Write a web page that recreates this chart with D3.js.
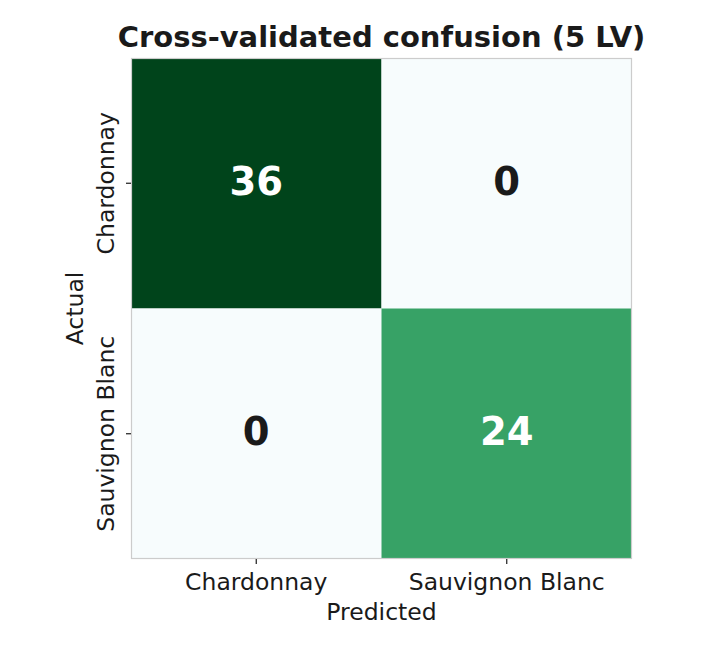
<!DOCTYPE html>
<html><head><meta charset="utf-8">
<script src="https://cdn.jsdelivr.net/npm/d3@7"></script>
<style>body{margin:0;background:#fff}svg{display:block}text{font-family:"DejaVu Sans",sans-serif;fill:#1a1a1a}</style>
</head><body>
<script>
const classes = ["Chardonnay", "Sauvignon Blanc"];
const matrix = [[36, 0], [0, 24]];
const title = "Cross-validated confusion (5 LV)";
const xLabel = "Predicted";
const yLabel = "Actual";

const W = 728, H = 650;
const mLeft = 131, mTop = 58, size = 501;
const svg = d3.select("body").append("svg").attr("width", W).attr("height", H);

const x = d3.scaleBand().domain(classes).range([mLeft, mLeft + size]);
const y = d3.scaleBand().domain(classes).range([mTop, mTop + size]);
const maxV = d3.max(matrix.flat());
const stops = ["#f7fcfd","#e5f5f9","#ccece6","#99d8c9","#66c2a4","#41ae76","#238b45","#006d2c","#00441b"];
const color = d3.scaleLinear().domain(stops.map((_, i) => i / (stops.length - 1) * maxV)).range(stops);

const cells = [];
classes.forEach((a, i) => classes.forEach((p, j) => cells.push({a, p, v: matrix[i][j]})));

svg.selectAll("rect.cell").data(cells).join("rect").attr("class", "cell")
  .attr("x", d => x(d.p)).attr("y", d => y(d.a))
  .attr("width", x.bandwidth()).attr("height", y.bandwidth())
  .attr("fill", d => color(d.v));

svg.selectAll("text.val").data(cells).join("text").attr("class", "val")
  .attr("x", d => x(d.p) + x.bandwidth() / 2).attr("y", d => y(d.a) + y.bandwidth() / 2 - 2)
  .attr("text-anchor", "middle").attr("dominant-baseline", "central")
  .style("font-size", "38.5px").style("font-weight", "bold")
  .style("fill", d => d.v > maxV / 2 * 0.9 ? "#ffffff" : "#1a1a1a")
  .text(d => d.v);

svg.append("rect").attr("x", mLeft + 0.5).attr("y", mTop + 0.5).attr("width", size - 1).attr("height", size - 1)
  .attr("fill", "none").attr("stroke", "#cccccc").attr("stroke-width", 1.2);

const xAxis = svg.append("g").attr("transform", `translate(0,${mTop + size})`)
  .call(d3.axisBottom(x).tickSize(5).tickPadding(9));
const yAxis = svg.append("g").attr("transform", `translate(${mLeft},0)`)
  .call(d3.axisLeft(y).tickSize(5).tickPadding(9));
[xAxis, yAxis].forEach(g => {
  g.select(".domain").remove();
  g.selectAll(".tick line").attr("stroke", "#1a1a1a").attr("stroke-width", 1.2);
  g.selectAll(".tick text").style("font-size", "23.5px").style("font-family", "DejaVu Sans").attr("fill", "#1a1a1a");
});
xAxis.selectAll(".tick text").attr("dy", "0.71em");
yAxis.selectAll(".tick text")
  .attr("text-anchor", "middle").attr("x", 0).attr("dy", 0)
  .attr("transform", "translate(-17,0) rotate(-90)");

svg.append("text").attr("x", mLeft + size / 2).attr("y", 47).attr("text-anchor", "middle")
  .style("font-size", "29px").style("font-weight", "bold").text(title);
svg.append("text").attr("x", mLeft + size / 2).attr("y", 620).attr("text-anchor", "middle")
  .style("font-size", "23.5px").text(xLabel);
svg.append("text").attr("transform", `translate(83,${mTop + size / 2}) rotate(-90)`).attr("text-anchor", "middle")
  .style("font-size", "23.5px").text(yLabel);
</script>
</body></html>
